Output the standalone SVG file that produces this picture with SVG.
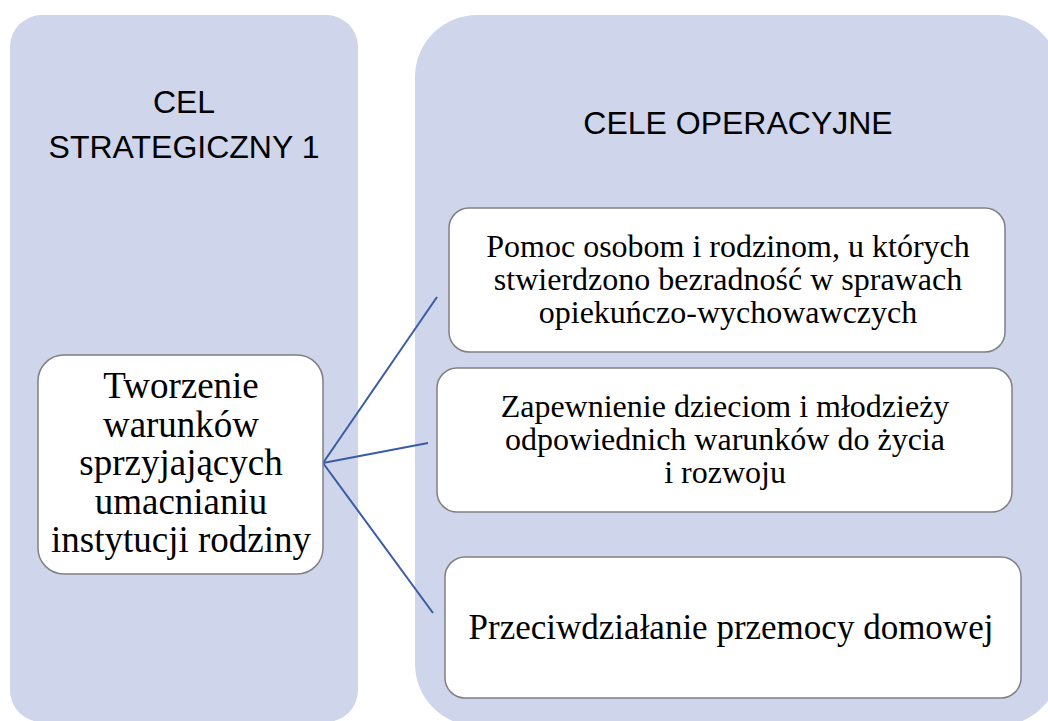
<svg xmlns="http://www.w3.org/2000/svg" width="1048" height="721" viewBox="0 0 1048 721">
<style>
.panel{fill:#cfd5ea;}
.box{fill:#ffffff;stroke:#808080;stroke-width:1.5;}
.head{font-family:"Liberation Sans",Arial,sans-serif;font-size:32px;fill:#000;text-anchor:middle;}
.ser{font-family:"Liberation Serif","Times New Roman",serif;fill:#000;text-anchor:middle;}
.big{font-size:37px;}
.mid{font-size:32px;}
.lrg{font-size:35px;}
.conn{stroke:#3a5ba5;stroke-width:2;fill:none;}
</style>
<rect width="1048" height="721" fill="#ffffff"/>
<g id="panel-strategic">
<rect class="panel" x="10" y="15" width="348" height="707" rx="32"/>
<text class="head" x="184" y="113">CEL</text>
<text class="head" x="184" y="158">STRATEGICZNY 1</text>
</g>
<g id="panel-operational">
<rect class="panel" x="415" y="15" width="645" height="711" rx="62"/>
<text class="head" x="738" y="134">CELE OPERACYJNE</text>
</g>
<g id="connectors">
<line class="conn" x1="323" y1="463" x2="437" y2="297"/>
<line class="conn" x1="323" y1="463" x2="428" y2="443"/>
<line class="conn" x1="323" y1="463" x2="433" y2="613"/>
</g>
<g id="node-main">
<rect class="box" x="38" y="355" width="285" height="219" rx="26"/>
<text class="ser big" x="181" y="398">Tworzenie</text>
<text class="ser big" x="181" y="437">warunków</text>
<text class="ser big" x="181" y="475">sprzyjających</text>
<text class="ser big" x="181" y="514">umacnianiu</text>
<text class="ser big" x="181" y="552">instytucji rodziny</text>
</g>
<g id="node-op1">
<rect class="box" x="449" y="208" width="556" height="144" rx="20"/>
<text class="ser mid" x="728" y="257">Pomoc osobom i rodzinom, u których</text>
<text class="ser mid" x="728" y="290">stwierdzono bezradność w sprawach</text>
<text class="ser mid" x="728" y="323">opiekuńczo-wychowawczych</text>
</g>
<g id="node-op2">
<rect class="box" x="437" y="368" width="575" height="144" rx="20"/>
<text class="ser mid" x="725" y="417">Zapewnienie dzieciom i młodzieży</text>
<text class="ser mid" x="725" y="450">odpowiednich warunków do życia</text>
<text class="ser mid" x="725" y="483">i rozwoju</text>
</g>
<g id="node-op3">
<rect class="box" x="445" y="557" width="576" height="141" rx="20"/>
<text class="ser lrg" x="731" y="639">Przeciwdziałanie przemocy domowej</text>
</g>
</svg>
